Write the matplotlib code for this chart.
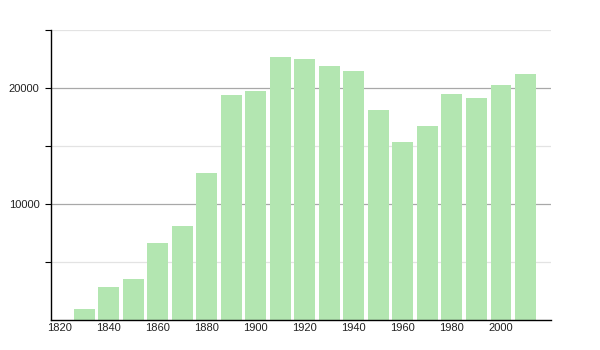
import matplotlib
matplotlib.use("Agg")
import matplotlib.pyplot as plt
from matplotlib.ticker import FixedLocator

# population by census year
years = [1830, 1840, 1850, 1860, 1870, 1880, 1890, 1900, 1910, 1920,
         1930, 1940, 1950, 1960, 1970, 1980, 1990, 2000, 2010]
values = [920, 2870, 3530, 6660, 8100, 12670, 19400, 19740, 22670, 22500,
          21900, 21470, 18100, 15350, 16720, 19480, 19140, 20260, 21210]
xticks = [1820, 1840, 1860, 1880, 1900, 1920, 1940, 1960, 1980, 2000]
yticks = [10000, 20000]

plt.rcParams['font.family'] = ['Liberation Sans', 'DejaVu Sans']

fig = plt.figure(figsize=(6, 3.5), dpi=100)
ax = fig.add_axes([0.0845, 0.0857, 0.8333, 0.8277])

ax.bar(years, values, width=8.5, color="#b3e6b1", zorder=2)

ax.set_xlim(1816.3, 2020.3)
ax.set_ylim(0, 25000)

# gridlines: darker on labelled values, lighter in between
ax.yaxis.set_major_locator(FixedLocator(yticks))
ax.yaxis.set_minor_locator(FixedLocator([5000, 15000, 25000]))
ax.grid(axis="y", which="major", color="#a8a8a8", linewidth=0.9, zorder=1)
ax.grid(axis="y", which="minor", color="#e3e3e3", linewidth=0.9, zorder=1)

ax.set_xticks(xticks)
ax.tick_params(axis="x", length=0, pad=2, labelsize=8, labelcolor="#222222")
ax.tick_params(axis="y", which="both", direction="out", length=4, width=0.8,
               pad=4, labelsize=8, labelcolor="#222222")

for side in ["top", "right"]:
    ax.spines[side].set_visible(False)
ax.spines["left"].set_linewidth(1.0)
ax.spines["bottom"].set_linewidth(1.0)

fig.savefig("out.png", dpi=100)
